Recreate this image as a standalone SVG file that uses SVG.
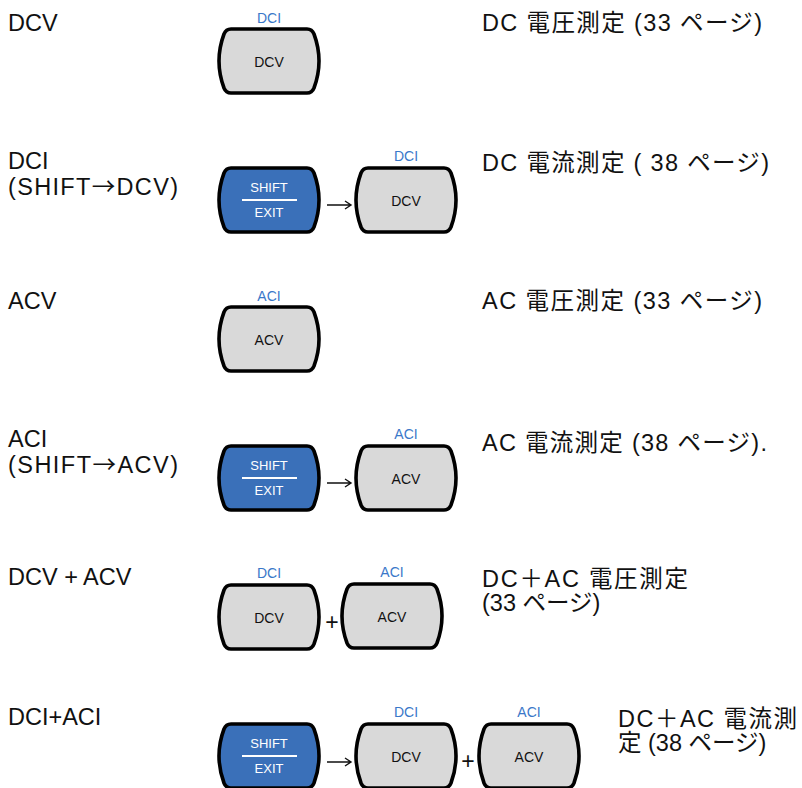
<svg xmlns="http://www.w3.org/2000/svg" xmlns:xlink="http://www.w3.org/1999/xlink" width="802" height="788" viewBox="0 0 802 788">
<style>
.bg{fill:#ffffff}
.key{fill:#d9d9d9;stroke:#000;stroke-width:3.6;stroke-linejoin:round}
.shift{fill:#3a70b9;stroke:#000;stroke-width:3.6;stroke-linejoin:round}
.kt{font-family:"Liberation Sans",Arial,sans-serif;font-size:14px;fill:#111;text-anchor:middle}
.st{font-family:"Liberation Sans",Arial,sans-serif;font-size:13px;fill:#fff;text-anchor:middle}
.lbl{font-family:"Liberation Sans",Arial,sans-serif;font-size:14px;fill:#3a78c9;text-anchor:middle}
.big{font-family:"Liberation Sans","Noto Sans CJK JP",sans-serif;font-size:23.5px;fill:#111}
.cjk{font-family:"Noto Sans CJK JP",sans-serif}
.plus{font-family:"Liberation Sans",Arial,sans-serif;font-size:23px;fill:#111;text-anchor:middle}
.arr{fill:none;stroke:#111;stroke-width:1.4}
</style>
<defs>
<path id="btn" d="M -38,-32 H 38 Q 43,-32 45,-27 Q 55,0 45,27 Q 43,32 38,32 H -38 Q -43,32 -45,27 Q -55,0 -45,-27 Q -43,-32 -38,-32 Z"/>
</defs>
<rect class="bg" x="0" y="0" width="802" height="788"/>

<g id="texts-left">
<text class="big" x="8" y="31">DCV</text>
<text class="big" x="8" y="169">DCI</text>
<text class="big" x="8" y="195" textLength="170" lengthAdjust="spacing">(SHIFT<tspan class="cjk">→</tspan>DCV)</text>
<text class="big" x="8" y="309">ACV</text>
<text class="big" x="8" y="447">ACI</text>
<text class="big" x="8" y="473" textLength="170" lengthAdjust="spacing">(SHIFT<tspan class="cjk">→</tspan>ACV)</text>
<text class="big" x="8" y="585">DCV + ACV</text>
<text class="big" x="8" y="725">DCI+ACI</text>
</g>

<g id="texts-right">
<text class="big" x="482" y="31" textLength="280" lengthAdjust="spacing">DC 電圧測定 (33 ページ)</text>
<text class="big" x="482" y="171" textLength="287" lengthAdjust="spacing">DC 電流測定 ( 38 ページ)</text>
<text class="big" x="482" y="309" textLength="280" lengthAdjust="spacing">AC 電圧測定 (33 ページ)</text>
<text class="big" x="482" y="451" textLength="285" lengthAdjust="spacing">AC 電流測定 (38 ページ).</text>
<text class="big" x="482" y="587" textLength="206" lengthAdjust="spacing">DC＋AC 電圧測定</text>
<text class="big" x="482" y="611">(33 ページ)</text>
<text class="big" x="618" y="727" textLength="179" lengthAdjust="spacing">DC＋AC 電流測</text>
<text class="big" x="618" y="751">定 (38 ページ)</text>
</g>

<g id="row1-dcv" transform="translate(269,61)">
<text class="lbl" x="0" y="-38">DCI</text>
<use xlink:href="#btn" href="#btn" class="key"/>
<text class="kt" x="0" y="6">DCV</text>
</g>

<g id="row2-shift" transform="translate(269,200)">
<use xlink:href="#btn" href="#btn" class="shift"/>
<text class="st" x="0" y="-8">SHIFT</text>
<line x1="-27" y1="0" x2="28" y2="0" stroke="#fff" stroke-width="1.8"/>
<text class="st" x="0" y="17">EXIT</text>
</g>
<g id="row2-dcv" transform="translate(406,200)">
<text class="lbl" x="0" y="-39">DCI</text>
<use xlink:href="#btn" href="#btn" class="key"/>
<text class="kt" x="0" y="6">DCV</text>
</g>

<g id="row3-acv" transform="translate(269,339)">
<text class="lbl" x="0" y="-38">ACI</text>
<use xlink:href="#btn" href="#btn" class="key"/>
<text class="kt" x="0" y="6">ACV</text>
</g>

<g id="row4-shift" transform="translate(269,478)">
<use xlink:href="#btn" href="#btn" class="shift"/>
<text class="st" x="0" y="-8">SHIFT</text>
<line x1="-27" y1="0" x2="28" y2="0" stroke="#fff" stroke-width="1.8"/>
<text class="st" x="0" y="17">EXIT</text>
</g>
<g id="row4-acv" transform="translate(406,478)">
<text class="lbl" x="0" y="-39">ACI</text>
<use xlink:href="#btn" href="#btn" class="key"/>
<text class="kt" x="0" y="6">ACV</text>
</g>

<g id="row5-dcv" transform="translate(269,617)">
<text class="lbl" x="0" y="-39">DCI</text>
<use xlink:href="#btn" href="#btn" class="key"/>
<text class="kt" x="0" y="6">DCV</text>
</g>
<g id="row5-acv" transform="translate(392,616)">
<text class="lbl" x="0" y="-39">ACI</text>
<use xlink:href="#btn" href="#btn" class="key"/>
<text class="kt" x="0" y="6">ACV</text>
</g>

<g id="row6-shift" transform="translate(269,756)">
<use xlink:href="#btn" href="#btn" class="shift"/>
<text class="st" x="0" y="-8">SHIFT</text>
<line x1="-27" y1="0" x2="28" y2="0" stroke="#fff" stroke-width="1.8"/>
<text class="st" x="0" y="17">EXIT</text>
</g>
<g id="row6-dcv" transform="translate(406,756)">
<text class="lbl" x="0" y="-39">DCI</text>
<use xlink:href="#btn" href="#btn" class="key"/>
<text class="kt" x="0" y="6">DCV</text>
</g>
<g id="row6-acv" transform="translate(529,756)">
<text class="lbl" x="0" y="-39">ACI</text>
<use xlink:href="#btn" href="#btn" class="key"/>
<text class="kt" x="0" y="6">ACV</text>
</g>

<g id="connectors">
<path class="arr" d="M 327,205 H 351 M 345,201 L 351,205 L 345,209"/>
<path class="arr" d="M 327,483 H 351 M 345,479 L 351,483 L 345,487"/>
<path class="arr" d="M 327,762 H 351 M 345,758 L 351,762 L 345,766"/>
<text class="plus" x="332" y="630">+</text>
<text class="plus" x="468" y="769">+</text>
</g>
</svg>
